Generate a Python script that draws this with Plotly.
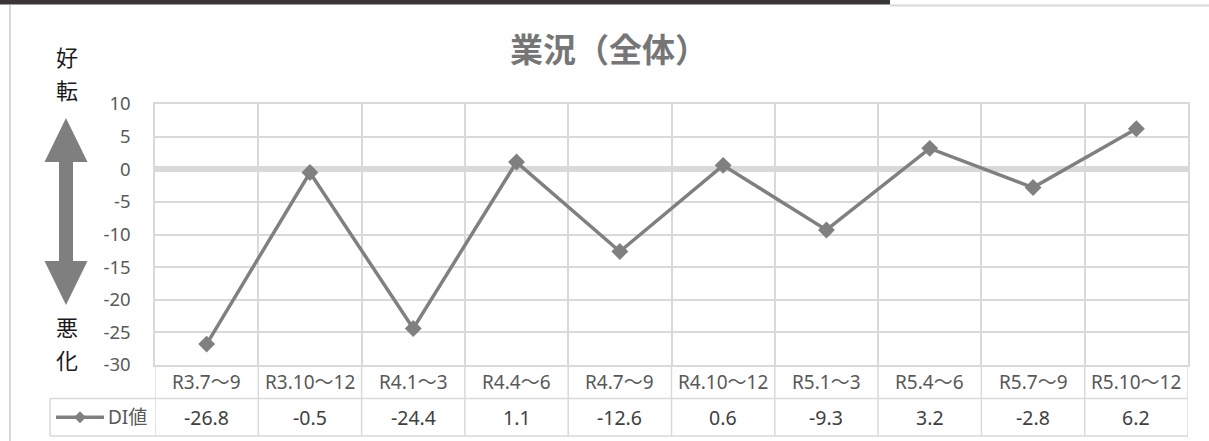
import plotly.graph_objects as go

# --- data -------------------------------------------------------------
periods = ["R3.7〜9", "R3.10〜12", "R4.1〜3", "R4.4〜6", "R4.7〜9",
           "R4.10〜12", "R5.1〜3", "R5.4〜6", "R5.7〜9", "R5.10〜12"]
di_values = [-26.8, -0.5, -24.4, 1.1, -12.6, 0.6, -9.3, 3.2, -2.8, 6.2]
series_name = "DI値"
y_ticks = [10, 5, 0, -5, -10, -15, -20, -25, -30]
chart_title = "業況（全体）"
side_chars = ["好", "転", "悪", "化"]

# --- page geometry (pixels) -------------------------------------------
FIG_W, FIG_H = 1209, 441
PL, PR, PT, PB = 155, 1188, 104, 365      # plot area edges
PW, PH = PR - PL, PB - PT

def px(x):
    return (x - PL) / PW

def py(y):
    return (PB - y) / PH

GRID = "#d9d9d9"
LINE = "#808080"
TXT = "#595959"
FONT = "Noto Sans, Noto Sans CJK JP, sans-serif"
CJK = "Noto Sans CJK JP, sans-serif"

fig = go.Figure()
fig.add_trace(go.Scatter(
    x=periods, y=di_values, mode="lines+markers", name=series_name,
    line=dict(color=LINE, width=3.5),
    marker=dict(symbol="diamond", size=13, color=LINE),
    showlegend=False, hoverinfo="x+y",
))

shapes = []
annotations = []

# top dark band and frame
shapes.append(dict(type="rect", xref="paper", yref="paper",
                   x0=px(0), x1=px(890), y0=py(0), y1=py(4.5),
                   fillcolor="#3a3637", line=dict(width=0), layer="above"))
shapes.append(dict(type="line", xref="paper", yref="paper",
                   x0=px(890), x1=px(FIG_W), y0=py(5.5), y1=py(5.5),
                   line=dict(color=GRID, width=2)))
shapes.append(dict(type="line", xref="paper", yref="paper",
                   x0=px(10), x1=px(10), y0=py(5), y1=py(FIG_H),
                   line=dict(color=GRID, width=2)))

# data table below the plot
row1, row2, row3 = 365, 398.5, 436
for k in range(len(periods) + 1):
    shapes.append(dict(type="line", xref="x", yref="paper",
                       x0=k - 0.5, x1=k - 0.5, y0=py(row1), y1=py(row3),
                       line=dict(color=GRID, width=1.5)))
for yy in (row2, row3):
    shapes.append(dict(type="line", xref="paper", yref="paper",
                       x0=px(50), x1=px(PR), y0=py(yy), y1=py(yy),
                       line=dict(color=GRID, width=1.5)))
shapes.append(dict(type="line", xref="paper", yref="paper",
                   x0=px(50), x1=px(50), y0=py(row2), y1=py(row3),
                   line=dict(color=GRID, width=1.5)))

for cat, val in zip(periods, di_values):
    annotations.append(dict(x=cat, xref="x", y=py((row1 + row2) / 2), yref="paper",
                            text=cat, showarrow=False, yanchor="middle",
                            font=dict(family=FONT, size=19, color=TXT)))
    annotations.append(dict(x=cat, xref="x", y=py((row2 + row3) / 2), yref="paper",
                            text=f"{val:g}", showarrow=False, yanchor="middle",
                            font=dict(family=FONT, size=19.5, color="#404040")))

# series key inside the table
ky = (row2 + row3) / 2
shapes.append(dict(type="line", xref="paper", yref="paper",
                   x0=px(56), x1=px(104), y0=py(ky), y1=py(ky),
                   line=dict(color=LINE, width=3.5)))
d = 6
shapes.append(dict(type="path", xref="paper", yref="paper",
                   path=(f"M {px(80)},{py(ky - d)} L {px(80 + d)},{py(ky)} "
                         f"L {px(80)},{py(ky + d)} L {px(80 - d)},{py(ky)} Z"),
                   fillcolor=LINE, line=dict(width=0)))
annotations.append(dict(x=px(106), xref="paper", y=py(ky), yref="paper",
                        text=series_name, showarrow=False, xanchor="left",
                        yanchor="middle",
                        font=dict(family=FONT, size=19, color=TXT)))

# double-headed direction arrow
cx, top, bot = 66, 118, 305
hw, hh, sw = 21.5, 44, 7
pts = [(cx, top), (cx + hw, top + hh), (cx + sw, top + hh), (cx + sw, bot - hh),
       (cx + hw, bot - hh), (cx, bot), (cx - hw, bot - hh), (cx - sw, bot - hh),
       (cx - sw, top + hh), (cx - hw, top + hh)]
path = "M " + " L ".join(f"{px(a)},{py(b)}" for a, b in pts) + " Z"
shapes.append(dict(type="path", xref="paper", yref="paper", path=path,
                   fillcolor="#7f7f7f", line=dict(width=0)))

# vertical captions beside the arrow, one character per line
for ch, yy in zip(side_chars, (56, 89, 326, 359)):
    annotations.append(dict(x=px(67), xref="paper", y=py(yy), yref="paper",
                            text=ch, showarrow=False, xanchor="center",
                            yanchor="middle",
                            font=dict(family=CJK, size=22, color="#1a1a1a")))

# chart title
annotations.append(dict(x=px(609), xref="paper", y=py(48), yref="paper",
                        text=f"<b>{chart_title}</b>", showarrow=False,
                        xanchor="center", yanchor="middle",
                        font=dict(family=CJK, size=33, color="#767676")))

fig.update_layout(
    width=FIG_W, height=FIG_H,
    margin=dict(l=PL, r=FIG_W - PR, t=PT, b=FIG_H - PB, pad=0),
    paper_bgcolor="white", plot_bgcolor="white",
    shapes=shapes, annotations=annotations,
    xaxis=dict(type="category", categoryorder="array", categoryarray=periods,
               range=[-0.5, len(periods) - 0.5], tickson="boundaries",
               showgrid=True, gridcolor=GRID, gridwidth=1.5,
               showticklabels=False, ticks="",
               showline=True, mirror=True, linecolor=GRID, linewidth=1.5,
               zeroline=False, fixedrange=True),
    yaxis=dict(range=[-30, 10], tickmode="array", tickvals=y_ticks,
               ticktext=[str(v) for v in y_ticks],
               showgrid=True, gridcolor=GRID, gridwidth=1.5,
               zeroline=True, zerolinecolor=GRID, zerolinewidth=6,
               showline=True, mirror=True, linecolor=GRID, linewidth=1.5,
               ticks="", ticklabelstandoff=19,
               tickfont=dict(family=FONT, size=18.5, color=TXT),
               fixedrange=True),
)

fig.write_html("out.html")
